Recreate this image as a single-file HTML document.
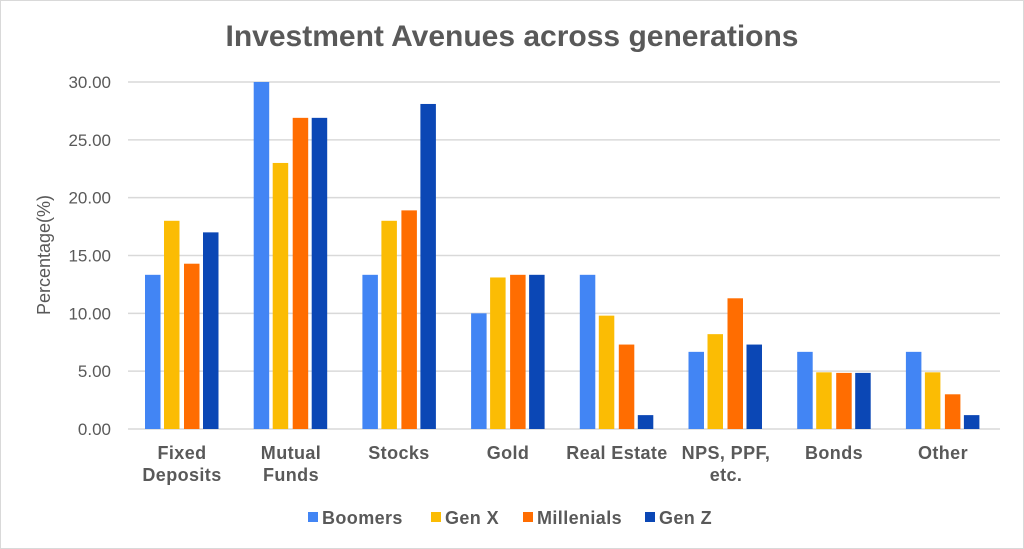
<!DOCTYPE html>
<html><head><meta charset="utf-8"><style>
html,body{margin:0;padding:0;background:#fff;}
svg{display:block;font-family:"Liberation Sans",Arial,sans-serif;}
</style></head><body>
<svg id="c" width="1024" height="549" xmlns="http://www.w3.org/2000/svg">
<rect x="0.5" y="0.5" width="1023" height="548" fill="#fff" stroke="#d9d9d9"/>
<text x="512" y="46" text-anchor="middle" font-size="30" font-weight="bold" fill="#595959">Investment Avenues across generations</text>
<g id="grid"></g>
<text transform="translate(50,255) rotate(-90)" text-anchor="middle" font-size="18" fill="#595959">Percentage(%)</text>
<g id="bars"></g>
<g font-size="18" font-weight="bold" fill="#595959" text-anchor="middle" letter-spacing="0.4">
<text x="182" y="459">Fixed</text><text x="182" y="481">Deposits</text>
<text x="291" y="459">Mutual</text><text x="291" y="481">Funds</text>
<text x="399" y="459">Stocks</text>
<text x="508" y="459">Gold</text>
<text x="617" y="459">Real Estate</text>
<text x="726" y="459">NPS, PPF,</text><text x="726" y="481">etc.</text>
<text x="834" y="459">Bonds</text>
<text x="943" y="459">Other</text>
</g>
<g font-size="18" font-weight="bold" fill="#595959" letter-spacing="0.4">
<rect x="308" y="512" width="10" height="10" fill="#4285f4"/><text x="322" y="524">Boomers</text>
<rect x="431" y="512" width="10" height="10" fill="#fbbc04"/><text x="445" y="524">Gen X</text>
<rect x="523" y="512" width="10" height="10" fill="#ff6d01"/><text x="537" y="524">Millenials</text>
<rect x="645" y="512" width="10" height="10" fill="#0b47b5"/><text x="659" y="524">Gen Z</text>
</g>
</svg>
<script>
var ns="http://www.w3.org/2000/svg";
var g=document.getElementById("grid"),b=document.getElementById("bars");
var base=429,s=11.567;
for(var i=0;i<=6;i++){var y=base-i*5*s;
var l=document.createElementNS(ns,"line");l.setAttribute("x1",128);l.setAttribute("x2",1000);l.setAttribute("y1",y);l.setAttribute("y2",y);l.setAttribute("stroke","#d9d9d9");l.setAttribute("stroke-width",1.5);g.appendChild(l);
var t=document.createElementNS(ns,"text");t.setAttribute("x",111);t.setAttribute("y",y+6);t.setAttribute("text-anchor","end");t.setAttribute("font-size","17");t.setAttribute("fill","#595959");t.textContent=(i*5).toFixed(2);g.appendChild(t);}
var d=[[13.33,18,14.29,17],[30,23,26.9,26.9],[13.33,18,18.9,28.1],[10,13.1,13.33,13.33],[13.33,9.8,7.3,1.2],[6.67,8.2,11.3,7.3],[6.67,4.9,4.85,4.85],[6.67,4.9,3.0,1.2]];
var col=["#4285f4","#fbbc04","#ff6d01","#0b47b5"],off=[17,36,56,75];
for(var c=0;c<8;c++)for(var k=0;k<4;k++){var h=d[c][k]*s;var r=document.createElementNS(ns,"rect");
r.setAttribute("x",128+c*108.7+off[k]);r.setAttribute("y",base-h);r.setAttribute("width",15.5);r.setAttribute("height",h);r.setAttribute("fill",col[k]);b.appendChild(r);}
</script>
</body></html>
